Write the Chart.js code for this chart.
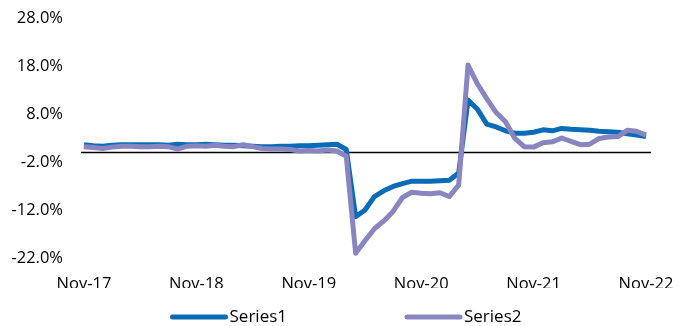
<!DOCTYPE html>
<html>
<head>
<meta charset="utf-8">
<script src="https://cdn.jsdelivr.net/npm/chart.js@4"></script>
<style>
  html, body { margin: 0; padding: 0; background: #fff; }
  #wrap { width: 692px; height: 326px; position: relative; }
</style>
</head>
<body>
<div id="wrap"><canvas id="lineChart" width="692" height="326"></canvas></div>
<script>
// meses Nov-17 .. Nov-22
const monthNames = ['Jan','Feb','Mar','Apr','May','Jun','Jul','Aug','Sep','Oct','Nov','Dec'];
const months = [];
for (let i = 0; i <= 60; i++) {
    const m = (10 + i) % 12;
    const y = 17 + Math.floor((10 + i) / 12);
    months.push(monthNames[m] + '-' + y);
}

const series1 = [
    1.6, 1.4, 1.3, 1.5, 1.6, 1.6, 1.6, 1.6, 1.6, 1.5, 1.7, 1.6,
    1.6, 1.7, 1.6, 1.5, 1.5, 1.4, 1.3, 1.2, 1.2, 1.3, 1.3, 1.4,
    1.4, 1.5, 1.6, 1.7, 0.6, -13.4, -12.0, -9.2, -8.0, -7.1, -6.5, -6.0,
    -6.0, -6.0, -5.9, -5.8, -4.3, 10.9, 9.0, 5.9, 5.3, 4.5, 4.0, 4.0,
    4.2, 4.7, 4.5, 5.0, 4.8, 4.7, 4.6, 4.4, 4.3, 4.2, 3.9, 3.6,
    3.3
];
const series2 = [
    1.2, 1.0, 0.8, 1.1, 1.3, 1.3, 1.2, 1.2, 1.3, 1.2, 0.7, 1.3,
    1.4, 1.3, 1.5, 1.3, 1.2, 1.6, 1.2, 0.8, 0.7, 0.7, 0.6, 0.3,
    0.4, 0.3, 0.5, 0.3, -0.8, -21.0, -18.4, -15.9, -14.3, -12.3, -9.4, -8.3,
    -8.5, -8.6, -8.4, -9.2, -6.8, 18.2, 14.3, 11.2, 8.3, 6.4, 2.9, 1.2,
    1.1, 2.0, 2.2, 3.0, 2.3, 1.6, 1.7, 2.9, 3.2, 3.3, 4.6, 4.4,
    3.6
];
const seriesNames = ['Series1', 'Series2'];
const yMin = -22, yMax = 28, yStep = 10;

const FONT = "'Open Sans', 'Liberation Sans', sans-serif";

// línea negra en cero
const zeroLine = {
    id: 'zeroLine',
    beforeDatasetsDraw(chart) {
        const {ctx, chartArea, scales} = chart;
        const y = Math.round(scales.y.getPixelForValue(0)) + 0.5;
        ctx.save();
        ctx.strokeStyle = '#000';
        ctx.lineWidth = 1.3;
        ctx.beginPath();
        ctx.moveTo(chartArea.left - 3, y);
        ctx.lineTo(chartArea.right + 5, y);
        ctx.stroke();
        ctx.restore();
    }
};

// leyenda abajo, dibujada a mano
const bottomLegend = {
    id: 'bottomLegend',
    afterDraw(chart) {
        const {ctx} = chart;
        const sample = 57, gapText = 2, gapItems = 118, y = 317;
        ctx.save();
        ctx.font = '17px ' + FONT;
        const widths = chart.data.datasets.map(ds => sample + gapText + ctx.measureText(ds.label).width);
        const total = widths.reduce((a, b) => a + b, 0) + gapItems * (widths.length - 1);
        let x = (chart.width - total) / 2;
        chart.data.datasets.forEach((ds, i) => {
            ctx.strokeStyle = ds.borderColor;
            ctx.lineWidth = 5;
            ctx.lineCap = 'round';
            ctx.beginPath();
            ctx.moveTo(x + 2, y);
            ctx.lineTo(x + sample - 2, y);
            ctx.stroke();
            ctx.fillStyle = '#000';
            ctx.textBaseline = 'middle';
            ctx.textAlign = 'left';
            ctx.fillText(ds.label, x + sample + gapText, y);
            x += widths[i] + gapItems;
        });
        ctx.restore();
    }
};

const ctx = document.getElementById('lineChart').getContext('2d');
new Chart(ctx, {
    type: 'line',
    data: {
        labels: months,
        datasets: [{
            label: seriesNames[0],
            data: series1,
            borderColor: '#0A6CB6',
            backgroundColor: '#0A6CB6',
            borderWidth: 5,
            pointRadius: 0,
            tension: 0,
            borderJoinStyle: 'round',
            order: 1
        }, {
            label: seriesNames[1],
            data: series2,
            borderColor: '#8885C0',
            backgroundColor: '#8885C0',
            borderWidth: 5,
            pointRadius: 0,
            tension: 0,
            borderJoinStyle: 'round',
            order: 0
        }]
    },
    options: {
        responsive: false,
        animation: false,
        layout: {
            padding: {left: 0, right: 46, top: 18, bottom: 38}
        },
        plugins: {
            legend: {display: false},
            tooltip: {enabled: false}
        },
        scales: {
            x: {
                type: 'category',
                offset: false,
                grid: {display: false, drawTicks: false},
                border: {display: false},
                ticks: {
                    autoSkip: false,
                    maxRotation: 0,
                    padding: 16,
                    color: '#000',
                    font: {family: FONT, size: 16.5},
                    callback: function(value, index) {
                        return index % 12 === 0 ? this.getLabelForValue(value) : '';
                    }
                },
                afterFit(scale) { scale.height = 30; }
            },
            y: {
                min: yMin,
                max: yMax,
                grid: {display: false, drawTicks: false},
                border: {display: false},
                ticks: {
                    stepSize: yStep,
                    padding: 21,
                    color: '#000',
                    font: {family: FONT, size: 16.5},
                    callback: v => v.toFixed(1) + '%'
                },
                afterFit(scale) {
                    scale.width = 84;
                    scale.paddingTop = 0;
                    scale.paddingBottom = 0;
                }
            }
        }
    },
    plugins: [zeroLine, bottomLegend]
});
</script>
</body>
</html>
